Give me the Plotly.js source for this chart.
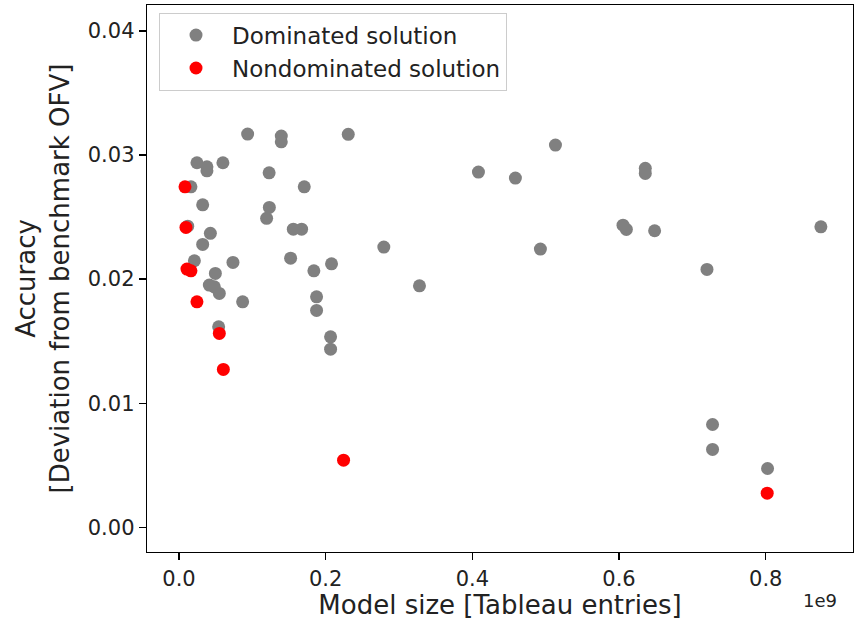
<!DOCTYPE html>
<html>
<head>
<meta charset="utf-8">
<script src="https://cdn.plot.ly/plotly-3.0.1.min.js"></script>
<style>html,body{margin:0;padding:0;background:#fff;}#chart{width:865px;height:620px;}</style>
</head>
<body>
<div id="chart"></div>
<script>
// Model size in units of 1e9 tableau entries
const dominatedX = [0.0936, 0.1395, 0.1395, 0.2308, 0.0245, 0.0381, 0.0381, 0.0599, 0.1229, 0.0163,
  0.1708, 0.0323, 0.1232, 0.1195, 0.0119, 0.0428, 0.1559, 0.1672, 0.0323, 0.2793,
  0.0210, 0.0736, 0.1522, 0.1839, 0.2080, 0.0496, 0.0414, 0.0482, 0.0550, 0.0868,
  0.1876, 0.1876, 0.3279, 0.2067, 0.2067, 0.0541, 0.4083, 0.4587, 0.5133, 0.4928,
  0.6358, 0.6358, 0.6054, 0.6100, 0.6485, 0.8752, 0.7199, 0.7275, 0.7275, 0.8025];
const dominatedY = [0.03169, 0.03153, 0.03107, 0.03167, 0.02938, 0.02906, 0.02873, 0.02938, 0.02857, 0.02744,
  0.02744, 0.02599, 0.02578, 0.02490, 0.02427, 0.02369, 0.02403, 0.02403, 0.02280, 0.02258,
  0.02148, 0.02135, 0.02169, 0.02067, 0.02123, 0.02046, 0.01952, 0.01938, 0.01885, 0.01817,
  0.01857, 0.01748, 0.01946, 0.01535, 0.01435, 0.01615, 0.02863, 0.02815, 0.03081, 0.02242,
  0.02893, 0.02852, 0.02435, 0.02401, 0.02390, 0.02422, 0.02078, 0.00828, 0.00627, 0.00473];
const nondominatedX = [0.0082, 0.0095, 0.0109, 0.0163, 0.0245, 0.0550, 0.0605, 0.2244, 0.8020];
const nondominatedY = [0.02744, 0.02417, 0.02081, 0.02067, 0.01817, 0.01562, 0.01272, 0.00540, 0.00274];
const seriesNames = ["Dominated solution", "Nondominated solution"];
const xTitle = "Model size [Tableau entries]";
const yTitle = "Accuracy<br>[Deviation from benchmark OFV]";
const xExponent = "1e9";

const font = "DejaVu Sans, Liberation Sans, sans-serif";
const traces = [
  {x: dominatedX, y: dominatedY, name: seriesNames[0], type: "scatter", mode: "markers",
   marker: {color: "#808080", size: 13}},
  {x: nondominatedX, y: nondominatedY, name: seriesNames[1], type: "scatter", mode: "markers",
   marker: {color: "#ff0000", size: 13}}
];
const axisCommon = {
  showline: true, mirror: true, linecolor: "#000", linewidth: 1.3,
  ticks: "outside", ticklen: 7, tickwidth: 1.3, tickcolor: "#000",
  showgrid: false, zeroline: false,
  tickfont: {family: font, size: 21, color: "#222"}
};
const layout = {
  width: 865, height: 620,
  margin: {l: 147, r: 12, t: 5, b: 68},
  paper_bgcolor: "#fff", plot_bgcolor: "#fff",
  font: {family: font, color: "#222"},
  showlegend: true,
  legend: {x: 0.017, y: 0.986, xanchor: "left", yanchor: "top",
    bgcolor: "rgba(255,255,255,0.8)", bordercolor: "#cccccc", borderwidth: 1,
    font: {family: font, size: 23, color: "#222"}, itemwidth: 62},
  xaxis: Object.assign({}, axisCommon, {
    range: [-0.0436, 0.919], tickvals: [0, 0.2, 0.4, 0.6, 0.8], tickformat: ".1f",
    title: {text: xTitle, font: {family: font, size: 26, color: "#222"}, standoff: 8}
  }),
  yaxis: Object.assign({}, axisCommon, {
    range: [-0.002, 0.0421], tickvals: [0, 0.01, 0.02, 0.03, 0.04], tickformat: ".2f",
    title: {text: yTitle, font: {family: font, size: 26, color: "#222"}, standoff: 10}
  }),
  annotations: [{text: xExponent, xref: "paper", yref: "paper", x: 0.953, y: -0.088,
    xanchor: "center", yanchor: "middle", showarrow: false,
    font: {family: font, size: 18, color: "#222"}}]
};
Plotly.newPlot("chart", traces, layout, {displayModeBar: false, staticPlot: true});
</script>
</body>
</html>
